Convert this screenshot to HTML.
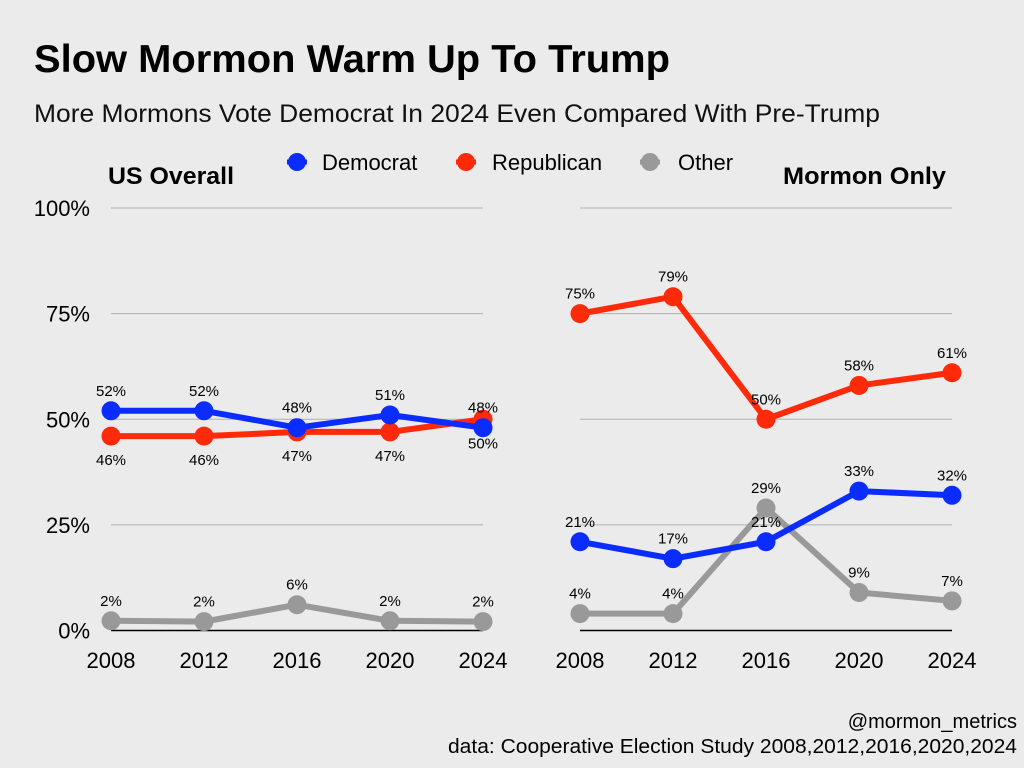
<!DOCTYPE html>
<html><head><meta charset="utf-8"><style>
body{margin:0;background:#ebebeb;}
svg{display:block;font-family:"Liberation Sans",sans-serif;}
</style></head><body>
<svg id="c" width="1024" height="768" viewBox="0 0 1024 768">
<rect width="1024" height="768" fill="#ebebeb"/>
<text x="34" y="72" font-size="39" font-weight="bold" fill="#000" textLength="636" lengthAdjust="spacingAndGlyphs">Slow Mormon Warm Up To Trump</text>
<text x="34" y="122" font-size="25" fill="#111" textLength="846" lengthAdjust="spacingAndGlyphs">More Mormons Vote Democrat In 2024 Even Compared With Pre-Trump</text>
<text x="108" y="184" font-size="24" font-weight="bold" textLength="126" lengthAdjust="spacingAndGlyphs">US Overall</text>
<text x="783" y="184" font-size="24" font-weight="bold" textLength="163" lengthAdjust="spacingAndGlyphs">Mormon Only</text>
<g>
<g><line x1="287" y1="162" x2="307" y2="162" stroke="#0a2cff" stroke-width="5"/><circle cx="297" cy="162" r="9" fill="#0a2cff"/><text x="322" y="170" font-size="22">Democrat</text></g>
<g><line x1="456" y1="162" x2="476" y2="162" stroke="#ff2a0a" stroke-width="5"/><circle cx="466" cy="162" r="9" fill="#ff2a0a"/><text x="492" y="170" font-size="22">Republican</text></g>
<g><line x1="640" y1="162" x2="660" y2="162" stroke="#999" stroke-width="5"/><circle cx="650" cy="162" r="9" fill="#999"/><text x="678" y="170" font-size="22">Other</text></g>
</g>
<text x="1017" y="728" font-size="20" text-anchor="end">@mormon_metrics</text>
<text x="1017" y="753" font-size="20" text-anchor="end" textLength="569" lengthAdjust="spacingAndGlyphs">data: Cooperative Election Study 2008,2012,2016,2020,2024</text>
<g id="plots"></g>
</svg>
<script>
const years=["2008","2012","2016","2020","2024"];
const yTicks=[0,25,50,75,100];
const usDem=[52,52,48,51,48];
const usRep=[46,46,47,47,50];
const usOther=[2.3,2.1,6.1,2.3,2.1];
const usDemLabels=["52%","52%","48%","51%","48%"];
const usRepLabels=["46%","46%","47%","47%","50%"];
const usOtherLabels=["2%","2%","6%","2%","2%"];
const ldsDem=[21,17,21,33,32];
const ldsRep=[75,79,50,58,61];
const ldsOther=[4,4,29,9,7];
const NS="http://www.w3.org/2000/svg";
const g=document.getElementById('plots');
function el(t,a,p){const e=document.createElementNS(NS,t);for(const k in a)e.setAttribute(k,a[k]);(p||g).appendChild(e);return e;}
const yS=v=>630.5-v*4.225;
function panel(x0,x1,name,axis,series){
  const xS=i=>x0+i*(x1-x0)/(years.length-1);
  const pg=el('g',{});
  
  
  yTicks.forEach(t=>{
    const l=el('line',{x1:x0,x2:x1,y1:yS(t),y2:yS(t),stroke:t===0?'#000':'#b0b0b0','stroke-width':t===0?1.5:1},pg);
    
    
    if(axis){const tx=el('text',{x:90,y:yS(t)+8,'font-size':22,'text-anchor':'end'},pg);tx.textContent=t+'%';
      
      }
  });
  years.forEach((y,i)=>{const tx=el('text',{x:xS(i),y:668,'font-size':22,'text-anchor':'middle'},pg);tx.textContent=y;
    
    });
  series.forEach(s=>{
    const sg=el('g',{},pg);
    
    
    el('polyline',{points:s.v.map((v,i)=>xS(i)+','+yS(v)).join(' '),fill:'none',stroke:s.c,'stroke-width':6,'stroke-linejoin':'round'},sg);
    s.v.forEach((v,i)=>{
      const c=el('circle',{cx:xS(i),cy:yS(v),r:9.5,fill:s.c},sg);
      
      
      const t=el('text',{x:xS(i),y:yS(v)+(s.below?29:-15),'font-size':15,'text-anchor':'middle'},sg);
      t.textContent=s.l[i];
      
      
    });
  });
}
panel(111,483,'us-overall-panel',true,[
 {n:'other',v:usOther,c:'#999',l:usOtherLabels},
 {n:'republican',v:usRep,c:'#ff2a0a',l:usRepLabels,below:true},
 {n:'democrat',v:usDem,c:'#0a2cff',l:usDemLabels}]);
panel(580,952,'mormon-only-panel',false,[
 {n:'other',v:ldsOther,c:'#999',l:ldsOther.map(v=>v+'%')},
 {n:'republican',v:ldsRep,c:'#ff2a0a',l:ldsRep.map(v=>v+'%')},
 {n:'democrat',v:ldsDem,c:'#0a2cff',l:ldsDem.map(v=>v+'%')}]);
</script>
</body></html>
